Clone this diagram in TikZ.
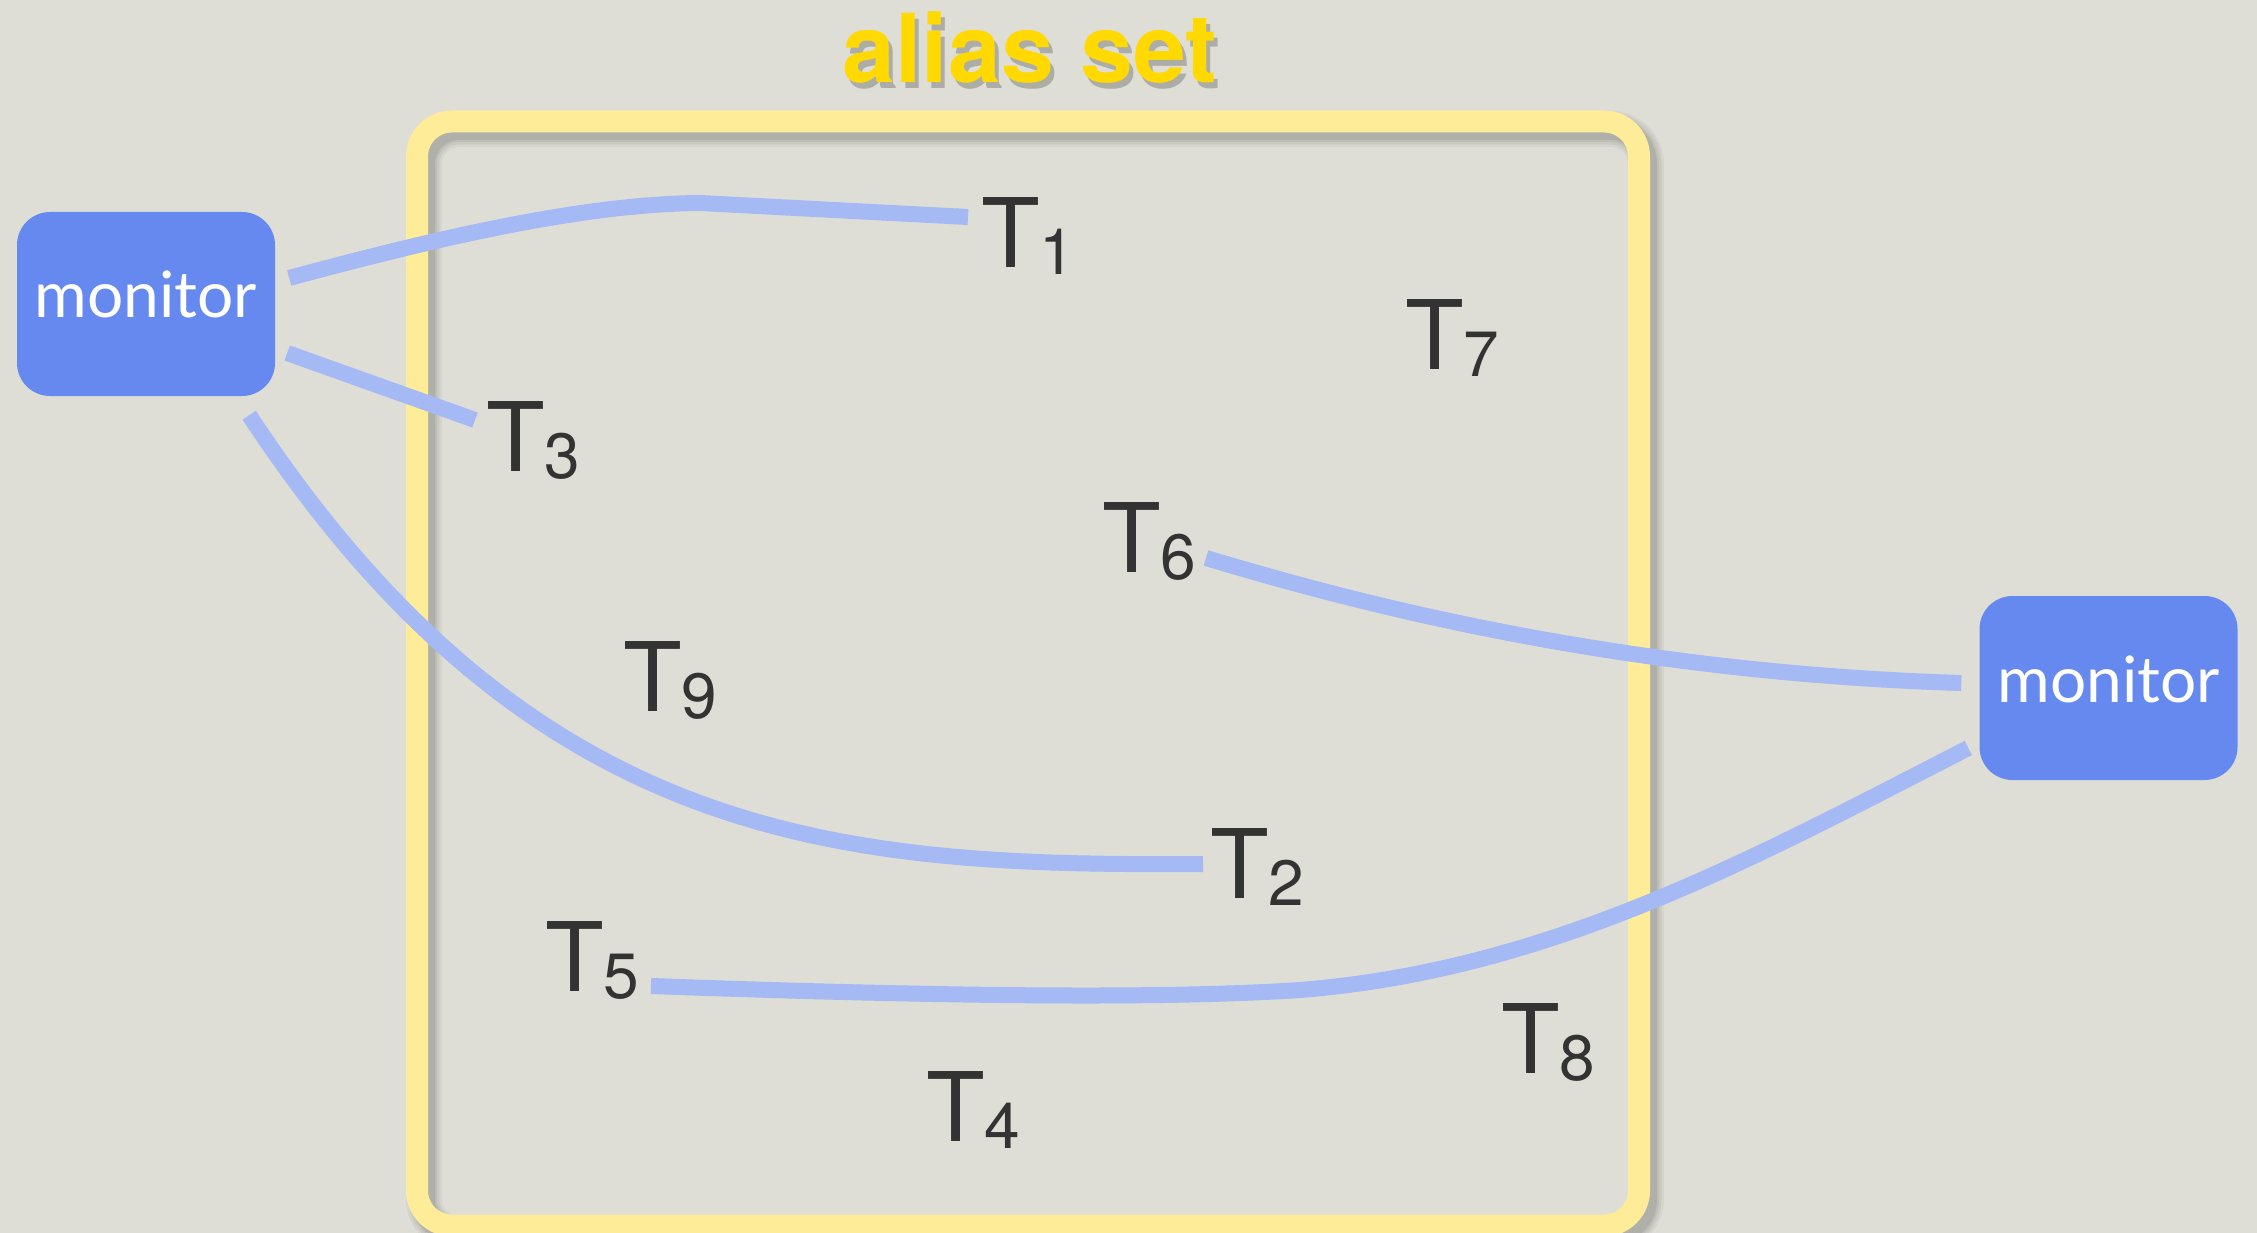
\documentclass[tikz,border=0pt]{standalone}
\usepackage{fontspec}
\setmainfont{TeX Gyre Heros}
\newfontfamily\monfont{Lato}
\usetikzlibrary{calc}
\definecolor{bg}{RGB}{222,222,215}
\definecolor{frameY}{RGB}{255,236,153}
\definecolor{titleY}{RGB}{255,217,0}
\definecolor{linkB}{RGB}{165,185,245}
\definecolor{monB}{RGB}{102,137,240}
\definecolor{tgray}{RGB}{51,51,51}
\newcommand{\tsub}[1]{T\raisebox{-7pt}{\fontsize{64}{64}\selectfont #1}}
\tikzset{
  tlabel/.style={anchor=base west, inner sep=0pt, outer sep=0pt, text=tgray, font=\fontsize{96}{96}\selectfont},
  monbox/.style={fill=monB, rounded corners=33pt, minimum width=258pt, minimum height=184pt, inner sep=0pt, text=white, font=\monfont\fontsize{64}{64}\selectfont},
  link/.style={draw=linkB, line width=16pt},
  aliasframe/.style={draw=frameY, line width=22pt, rounded corners=35pt, minimum width=1222pt, minimum height=1104pt, inner sep=0pt},
  frameshadow/.style={draw=black, rounded corners=35pt},
  titlestyle/.style={anchor=base, inner sep=0pt, font=\bfseries\fontsize{95}{95}\selectfont},
}
\begin{document}
\begin{tikzpicture}[x=1pt,y=-1pt]
\fill[bg] (0,0) rectangle (2257,1233);
\useasboundingbox (0,0) rectangle (2257,1233);
% frame shadow
\foreach \w/\o in {36/0.04,31/0.05,26/0.06,22/0.07}
  \draw[frameshadow, opacity=\o, line width=\w pt] (424,129) rectangle (1646,1234);
\node[aliasframe] (frame) at (1028,673.5) {};
% title
\node[titlestyle, text=black, opacity=0.22] at (1034,89) {alias set};
\node[titlestyle, text=titleY] (title) at (1030,83) {alias set};
% monitors
\node[monbox] (monL) at (146,304) {\raisebox{-14pt}[0pt][0pt]{monitor}};
\node[monbox] (monR) at (2108.5,688) {\raisebox{-14pt}[0pt][0pt]{monitor}};
% T labels
\node[tlabel] (T1) at (981,268) {\tsub{1}};
\node[tlabel] (T2) at (1210,898) {\tsub{2}};
\node[tlabel] (T3) at (486,471) {\tsub{3}};
\node[tlabel] (T4) at (926,1141) {\tsub{4}};
\node[tlabel] (T5) at (545,991) {\tsub{5}};
\node[tlabel] (T6) at (1102,572) {\tsub{6}};
\node[tlabel] (T7) at (1405,369) {\tsub{7}};
\node[tlabel] (T8) at (1501,1073) {\tsub{8}};
\node[tlabel] (T9) at (623,711) {\tsub{9}};
% connectors
\draw[link] ($(monL.east)+(14,-26)$) .. controls (430,240) and (580,204) .. (700,203) -- ($(T1.base west)+(-13,-51)$);
\draw[link] ($(monL.east)+(12,49)$) -- ($(T3.base west)+(-11,-51)$);
\draw[link] ($(monL.south east)+(-26,19)$) .. controls (535,850) and (850,866) .. ($(T2.base west)+(-7,-34)$);
\draw[link] ($(T6.base west)+(104,-14)$) .. controls (1330,595) and (1600,672) .. ($(monR.west)+(-18,-5)$);
\draw[link] ($(T5.base west)+(106,-5)$) .. controls (900,995) and (1150,1000) .. (1300,990)
  .. controls (1550,970) and (1750,860) .. ($(monR.west)+(-11,60)$);
\end{tikzpicture}
\end{document}
